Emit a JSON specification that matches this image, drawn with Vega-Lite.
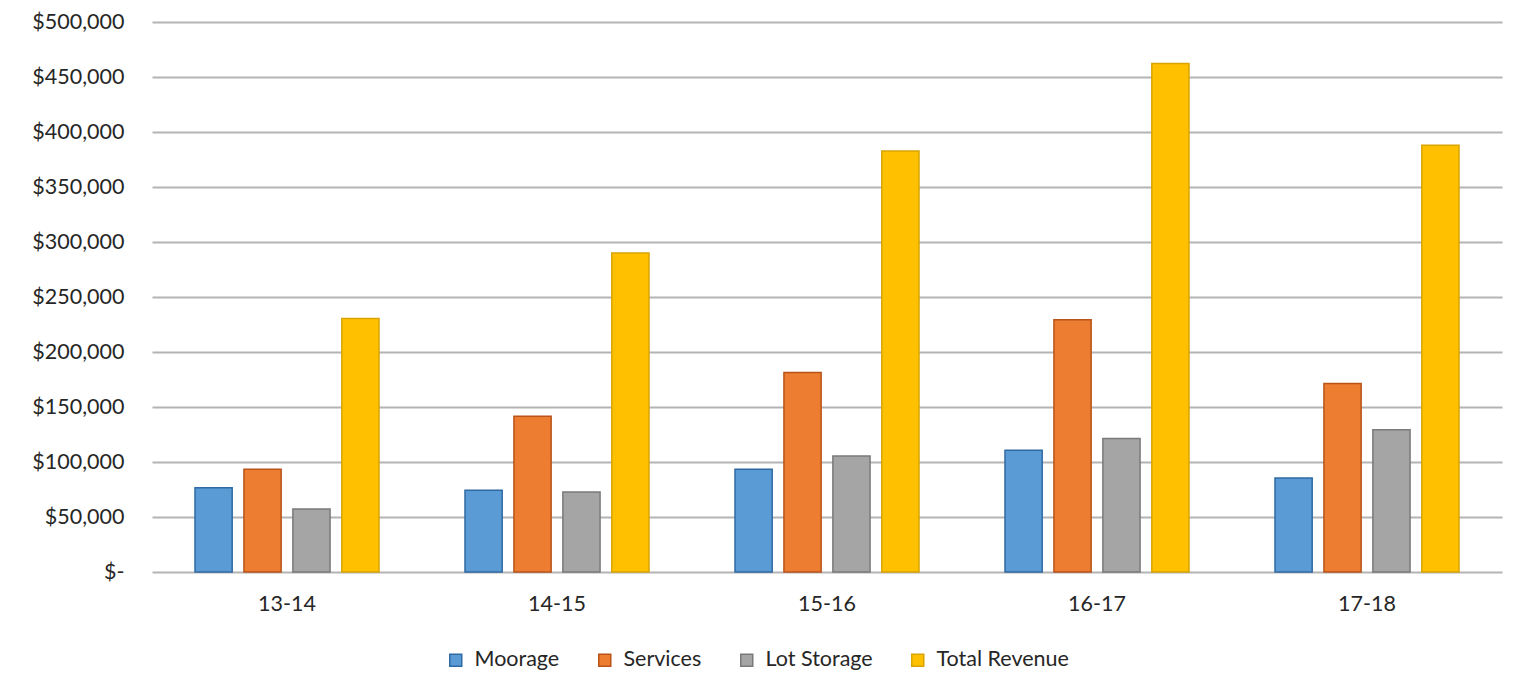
{
  "$schema": "https://vega.github.io/schema/vega-lite/v6.json",
  "width": 1350,
  "height": 550,
  "autosize": {"type": "none"},
  "padding": {"left": 152, "top": 22, "right": 12, "bottom": 123},
  "background": "white",
  "config": {
    "view": {"stroke": null},
    "font": "Lato",
    "axis": {"labelFont": "Lato", "labelColor": "#262626"},
    "legend": {"labelFont": "Lato", "labelColor": "#262626"}
  },
  "data": {
    "values": [
      {"year": "13-14", "series": "Moorage", "value": 76700},
      {"year": "13-14", "series": "Services", "value": 93400},
      {"year": "13-14", "series": "Lot Storage", "value": 57300},
      {"year": "13-14", "series": "Total Revenue", "value": 230400},
      {"year": "14-15", "series": "Moorage", "value": 74300},
      {"year": "14-15", "series": "Services", "value": 141500},
      {"year": "14-15", "series": "Lot Storage", "value": 72700},
      {"year": "14-15", "series": "Total Revenue", "value": 290000},
      {"year": "15-16", "series": "Moorage", "value": 93400},
      {"year": "15-16", "series": "Services", "value": 181300},
      {"year": "15-16", "series": "Lot Storage", "value": 105500},
      {"year": "15-16", "series": "Total Revenue", "value": 382700},
      {"year": "16-17", "series": "Moorage", "value": 110600},
      {"year": "16-17", "series": "Services", "value": 229400},
      {"year": "16-17", "series": "Lot Storage", "value": 121300},
      {"year": "16-17", "series": "Total Revenue", "value": 462200},
      {"year": "17-18", "series": "Moorage", "value": 85500},
      {"year": "17-18", "series": "Services", "value": 171300},
      {"year": "17-18", "series": "Lot Storage", "value": 129400},
      {"year": "17-18", "series": "Total Revenue", "value": 387900}
    ]
  },
  "mark": {"type": "bar", "strokeWidth": 1.5},
  "encoding": {
    "x": {
      "field": "year",
      "type": "nominal",
      "sort": null,
      "title": null,
      "scale": {"paddingInner": 0.275, "paddingOuter": 0.1375},
      "axis": {
        "labelAngle": 0,
        "labelFontSize": 21.5,
        "labelPadding": 21,
        "ticks": false,
        "domain": false,
        "grid": false
      }
    },
    "xOffset": {
      "field": "series",
      "type": "nominal",
      "sort": ["Moorage", "Services", "Lot Storage", "Total Revenue"],
      "scale": {"paddingInner": 0.24, "paddingOuter": 0.12}
    },
    "y": {
      "field": "value",
      "type": "quantitative",
      "title": null,
      "scale": {"domain": [0, 500000], "nice": false},
      "axis": {
        "values": [0, 50000, 100000, 150000, 200000, 250000, 300000, 350000, 400000, 450000, 500000],
        "labelExpr": "datum.value == 0 ? '$-' : '$' + format(datum.value, ',')",
        "labelFontSize": 21.5,
        "labelPadding": 28,
        "ticks": false,
        "domain": false,
        "grid": true,
        "gridColor": "#B4B4B4",
        "gridWidth": 2
      }
    },
    "color": {
      "field": "series",
      "type": "nominal",
      "sort": ["Moorage", "Services", "Lot Storage", "Total Revenue"],
      "title": null,
      "scale": {
        "domain": ["Moorage", "Services", "Lot Storage", "Total Revenue"],
        "range": ["#5B9BD5", "#ED7D31", "#A5A5A5", "#FFC000"]
      },
      "legend": {
        "orient": "none",
        "legendX": 293,
        "legendY": 627,
        "direction": "horizontal",
        "symbolType": "square",
        "symbolSize": 144,
        "symbolStrokeWidth": 1.5,
        "labelFontSize": 21.5,
        "columnPadding": 34,
        "labelOffset": 8
      }
    },
    "stroke": {
      "field": "series",
      "type": "nominal",
      "legend": null,
      "scale": {
        "domain": ["Moorage", "Services", "Lot Storage", "Total Revenue"],
        "range": ["#2F6AA3", "#B9531A", "#7A7A7A", "#D9A400"]
      }
    }
  }
}
